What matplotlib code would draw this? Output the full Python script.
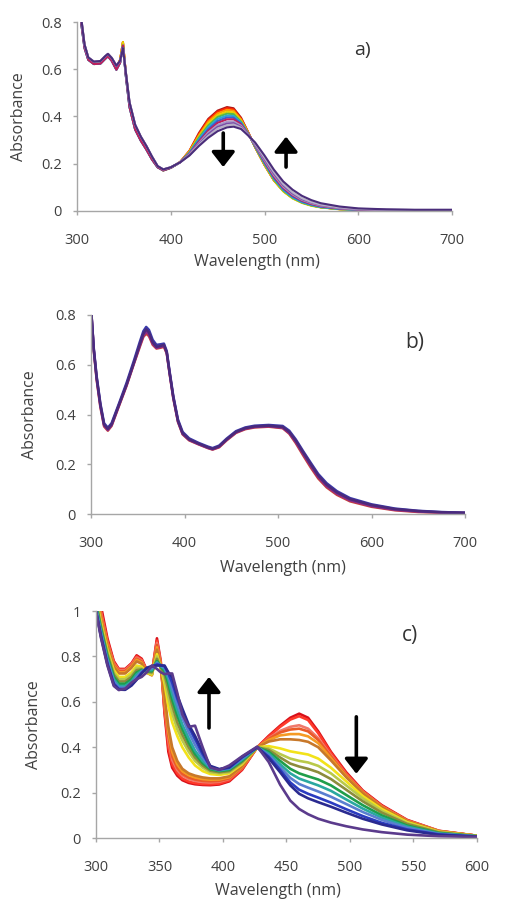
import matplotlib.pyplot as plt

plt.rcParams['font.family'] = ['Open Sans', 'DejaVu Sans']

# ---------------- panel a ----------------
# UV part: the curves nearly overlap, read as three groups
front_wl_a = [302, 305, 308, 312, 318, 325, 330, 333, 337, 342, 346, 349,
              352, 356, 362, 368, 374, 380, 386, 392, 400, 410]
front_warm_a = [0.90, 0.79, 0.70, 0.645, 0.63, 0.632, 0.652, 0.662, 0.643, 0.608, 0.64, 0.715,
                0.585, 0.45, 0.355, 0.305, 0.265, 0.222, 0.187, 0.172, 0.183, 0.207]
front_cool_a = [0.90, 0.78, 0.69, 0.64, 0.622, 0.624, 0.644, 0.655, 0.636, 0.598, 0.628, 0.70,
                0.575, 0.44, 0.345, 0.298, 0.26, 0.218, 0.185, 0.172, 0.183, 0.206]
front_purple_a = [0.90, 0.80, 0.705, 0.65, 0.632, 0.635, 0.655, 0.665, 0.648, 0.615, 0.636, 0.69,
                  0.59, 0.46, 0.365, 0.315, 0.275, 0.23, 0.19, 0.176, 0.185, 0.206]
fronts_a = [front_warm_a, front_cool_a, front_purple_a]
front_pick_a = [0, 0, 0, 0, 1, 1, 1, 1, 2, 2, 2, 2]

vis_wl_a = [420, 430, 440, 450, 460, 467, 475, 483, 490, 500, 510, 520, 530,
            540, 550, 560, 580, 600, 630, 660, 700]
vis_a = [
    [0.255, 0.33, 0.39, 0.425, 0.44, 0.435, 0.395, 0.33, 0.27, 0.195, 0.13, 0.085, 0.055, 0.036, 0.024, 0.016, 0.008, 0.004, 0.002, 0.002, 0.002],
    [0.255, 0.325, 0.385, 0.42, 0.435, 0.43, 0.39, 0.33, 0.27, 0.195, 0.13, 0.085, 0.055, 0.036, 0.024, 0.016, 0.008, 0.004, 0.002, 0.002, 0.002],
    [0.253, 0.32, 0.378, 0.413, 0.428, 0.424, 0.387, 0.328, 0.27, 0.196, 0.131, 0.085, 0.055, 0.036, 0.024, 0.016, 0.008, 0.004, 0.002, 0.002, 0.002],
    [0.25, 0.315, 0.37, 0.405, 0.42, 0.417, 0.383, 0.326, 0.27, 0.196, 0.13, 0.083, 0.053, 0.034, 0.022, 0.015, 0.007, 0.003, 0.002, 0.002, 0.002],
    [0.248, 0.31, 0.362, 0.398, 0.412, 0.41, 0.378, 0.325, 0.272, 0.2, 0.134, 0.087, 0.056, 0.036, 0.024, 0.016, 0.008, 0.004, 0.002, 0.002, 0.002],
    [0.246, 0.303, 0.354, 0.39, 0.404, 0.402, 0.374, 0.324, 0.274, 0.203, 0.138, 0.09, 0.058, 0.038, 0.026, 0.017, 0.009, 0.004, 0.003, 0.002, 0.002],
    [0.244, 0.297, 0.346, 0.381, 0.396, 0.395, 0.37, 0.323, 0.276, 0.207, 0.142, 0.094, 0.062, 0.041, 0.028, 0.019, 0.01, 0.005, 0.003, 0.003, 0.003],
    [0.242, 0.292, 0.339, 0.373, 0.388, 0.388, 0.366, 0.322, 0.278, 0.211, 0.146, 0.098, 0.066, 0.044, 0.03, 0.021, 0.011, 0.006, 0.004, 0.003, 0.003],
    [0.24, 0.287, 0.332, 0.364, 0.378, 0.379, 0.361, 0.321, 0.28, 0.215, 0.152, 0.103, 0.07, 0.047, 0.033, 0.023, 0.012, 0.007, 0.004, 0.004, 0.004],
    [0.238, 0.283, 0.325, 0.356, 0.37, 0.372, 0.356, 0.32, 0.283, 0.22, 0.158, 0.108, 0.074, 0.05, 0.036, 0.025, 0.014, 0.008, 0.005, 0.004, 0.004],
    [0.237, 0.28, 0.318, 0.349, 0.363, 0.366, 0.352, 0.319, 0.286, 0.226, 0.165, 0.114, 0.079, 0.054, 0.038, 0.027, 0.015, 0.009, 0.006, 0.005, 0.005],
    [0.235, 0.275, 0.31, 0.338, 0.354, 0.357, 0.347, 0.318, 0.29, 0.235, 0.175, 0.125, 0.09, 0.064, 0.046, 0.033, 0.019, 0.011, 0.007, 0.005, 0.005],
]
colors_a = ['#b01818', '#ff2a00', '#ff9900', '#e6d200', '#55b84a', '#29a8d8',
            '#3a5fd0', '#c0205a', '#a999c8', '#7b4fa8', '#b8b0c8', '#4a2d7a']

# ---------------- panel b ----------------
wl_b = [300, 303, 306, 310, 314, 318, 322, 330, 338, 346, 352, 356, 359, 362, 366, 370,
        374, 378, 381, 384, 388, 393, 398, 405, 415, 425, 430, 437, 445, 455, 465, 475,
        490, 505, 512, 519, 527, 535, 543, 552, 563, 577, 600, 625, 650, 675, 700]
abs_b = [
    [0.83, 0.655, 0.54, 0.43, 0.352, 0.335, 0.354, 0.435, 0.515, 0.605, 0.67, 0.712, 0.725, 0.715, 0.68, 0.665,
     0.668, 0.672, 0.645, 0.565, 0.465, 0.37, 0.32, 0.296, 0.28, 0.265, 0.259, 0.268, 0.296, 0.326, 0.341, 0.348,
     0.351, 0.345, 0.323, 0.285, 0.235, 0.187, 0.143, 0.107, 0.077, 0.051, 0.029, 0.015, 0.008, 0.005, 0.004],
    [0.83, 0.658, 0.545, 0.435, 0.356, 0.338, 0.357, 0.438, 0.518, 0.608, 0.675, 0.718, 0.733, 0.722, 0.685, 0.668,
     0.671, 0.676, 0.648, 0.568, 0.468, 0.372, 0.322, 0.298, 0.281, 0.266, 0.26, 0.27, 0.298, 0.328, 0.343, 0.35,
     0.353, 0.347, 0.326, 0.29, 0.241, 0.194, 0.149, 0.112, 0.082, 0.055, 0.032, 0.017, 0.01, 0.006, 0.004],
    [0.83, 0.665, 0.555, 0.445, 0.365, 0.347, 0.365, 0.445, 0.527, 0.618, 0.69, 0.735, 0.752, 0.74, 0.7, 0.68,
     0.682, 0.685, 0.655, 0.575, 0.475, 0.38, 0.33, 0.304, 0.286, 0.271, 0.265, 0.275, 0.303, 0.333, 0.348, 0.355,
     0.358, 0.354, 0.335, 0.3, 0.252, 0.206, 0.161, 0.124, 0.092, 0.064, 0.039, 0.022, 0.013, 0.008, 0.005],
    [0.83, 0.66, 0.55, 0.44, 0.36, 0.342, 0.36, 0.44, 0.52, 0.61, 0.68, 0.725, 0.742, 0.73, 0.69, 0.672,
     0.675, 0.68, 0.65, 0.57, 0.47, 0.375, 0.325, 0.3, 0.283, 0.268, 0.262, 0.272, 0.3, 0.33, 0.345, 0.352,
     0.355, 0.35, 0.33, 0.295, 0.247, 0.2, 0.155, 0.118, 0.087, 0.06, 0.036, 0.02, 0.012, 0.007, 0.005],
]
colors_b = ['#c8403a', '#8a2a8a', '#3a3aa8', '#4b2a7b']

# ---------------- panel c ----------------
wl_c = [300, 304, 309, 314, 318, 323, 328, 332, 336, 340, 344, 348, 351, 354, 357, 360,
        364, 368, 373, 378, 384, 390, 397, 405, 415, 427, 436, 445, 453, 460, 467, 475,
        485, 497, 510, 525, 545, 570, 600]
abs_c = [
    [1.15, 1.02, 0.88, 0.78, 0.745, 0.745, 0.77, 0.805, 0.79, 0.74, 0.725, 0.88, 0.78, 0.55, 0.38, 0.31,
     0.275, 0.255, 0.243, 0.237, 0.234, 0.233, 0.236, 0.25, 0.30, 0.40, 0.45, 0.495, 0.53, 0.548, 0.53, 0.47,
     0.38, 0.29, 0.21, 0.145, 0.08, 0.032, 0.01],
    [1.12, 1.0, 0.87, 0.775, 0.742, 0.742, 0.768, 0.8, 0.786, 0.738, 0.724, 0.87, 0.77, 0.56, 0.40, 0.325,
     0.285, 0.262, 0.249, 0.242, 0.238, 0.237, 0.24, 0.254, 0.303, 0.40, 0.447, 0.49, 0.522, 0.537, 0.52, 0.462,
     0.375, 0.285, 0.207, 0.142, 0.078, 0.031, 0.01],
    [1.1, 0.99, 0.86, 0.77, 0.74, 0.74, 0.765, 0.795, 0.782, 0.735, 0.722, 0.86, 0.77, 0.58, 0.43, 0.345,
     0.30, 0.275, 0.26, 0.252, 0.247, 0.245, 0.248, 0.26, 0.308, 0.40, 0.44, 0.472, 0.49, 0.497, 0.482, 0.44,
     0.365, 0.28, 0.205, 0.14, 0.077, 0.031, 0.01],
    [1.09, 0.98, 0.855, 0.765, 0.735, 0.735, 0.76, 0.79, 0.778, 0.733, 0.72, 0.85, 0.765, 0.59, 0.45, 0.36,
     0.31, 0.283, 0.267, 0.258, 0.252, 0.25, 0.252, 0.263, 0.31, 0.40, 0.437, 0.465, 0.478, 0.482, 0.47, 0.432,
     0.36, 0.277, 0.203, 0.139, 0.076, 0.03, 0.01],
    [1.08, 0.97, 0.85, 0.76, 0.73, 0.73, 0.755, 0.785, 0.773, 0.73, 0.718, 0.84, 0.76, 0.61, 0.47, 0.38,
     0.325, 0.295, 0.277, 0.267, 0.26, 0.257, 0.258, 0.268, 0.314, 0.40, 0.432, 0.452, 0.458, 0.458, 0.448, 0.418,
     0.352, 0.273, 0.2, 0.137, 0.075, 0.03, 0.01],
    [1.07, 0.96, 0.845, 0.755, 0.725, 0.725, 0.75, 0.778, 0.768, 0.728, 0.717, 0.83, 0.755, 0.63, 0.49, 0.40,
     0.34, 0.305, 0.285, 0.275, 0.267, 0.263, 0.263, 0.272, 0.317, 0.40, 0.425, 0.435, 0.435, 0.432, 0.424, 0.40,
     0.342, 0.268, 0.197, 0.135, 0.074, 0.03, 0.01],
    [1.06, 0.95, 0.83, 0.74, 0.71, 0.71, 0.73, 0.76, 0.755, 0.728, 0.72, 0.81, 0.75, 0.68, 0.58, 0.51,
     0.45, 0.40, 0.355, 0.32, 0.295, 0.282, 0.278, 0.285, 0.325, 0.40, 0.405, 0.395, 0.382, 0.375, 0.368, 0.35,
     0.31, 0.25, 0.185, 0.128, 0.07, 0.028, 0.009],
    [1.05, 0.94, 0.82, 0.73, 0.70, 0.70, 0.72, 0.75, 0.748, 0.73, 0.725, 0.80, 0.75, 0.70, 0.62, 0.55,
     0.48, 0.43, 0.38, 0.34, 0.31, 0.29, 0.285, 0.29, 0.33, 0.40, 0.395, 0.37, 0.35, 0.34, 0.333, 0.318,
     0.285, 0.232, 0.175, 0.12, 0.066, 0.026, 0.009],
    [1.04, 0.93, 0.81, 0.72, 0.69, 0.69, 0.71, 0.74, 0.743, 0.733, 0.73, 0.79, 0.752, 0.72, 0.655, 0.585,
     0.51, 0.455, 0.40, 0.355, 0.32, 0.297, 0.29, 0.295, 0.335, 0.40, 0.388, 0.355, 0.328, 0.315, 0.305, 0.29,
     0.26, 0.213, 0.162, 0.112, 0.062, 0.025, 0.008],
    [1.03, 0.92, 0.80, 0.71, 0.68, 0.68, 0.70, 0.73, 0.74, 0.735, 0.735, 0.78, 0.755, 0.735, 0.68, 0.61,
     0.54, 0.48, 0.42, 0.37, 0.33, 0.303, 0.295, 0.30, 0.34, 0.40, 0.38, 0.34, 0.305, 0.285, 0.272, 0.258,
     0.232, 0.19, 0.145, 0.10, 0.055, 0.022, 0.008],
    [1.02, 0.91, 0.79, 0.70, 0.67, 0.67, 0.69, 0.72, 0.737, 0.74, 0.74, 0.775, 0.757, 0.745, 0.70, 0.635,
     0.565, 0.50, 0.44, 0.385, 0.34, 0.308, 0.298, 0.305, 0.345, 0.40, 0.372, 0.325, 0.285, 0.262, 0.248, 0.232,
     0.208, 0.17, 0.13, 0.09, 0.05, 0.02, 0.007],
    [1.01, 0.90, 0.78, 0.69, 0.663, 0.662, 0.68, 0.71, 0.733, 0.745, 0.748, 0.77, 0.76, 0.752, 0.715, 0.66,
     0.59, 0.53, 0.465, 0.41, 0.355, 0.312, 0.30, 0.308, 0.35, 0.40, 0.365, 0.312, 0.265, 0.238, 0.222, 0.205,
     0.182, 0.15, 0.115, 0.08, 0.045, 0.018, 0.007],
    [1.0, 0.89, 0.77, 0.68, 0.657, 0.656, 0.675, 0.70, 0.728, 0.748, 0.755, 0.765, 0.762, 0.757, 0.725, 0.685,
     0.615, 0.555, 0.49, 0.435, 0.37, 0.315, 0.302, 0.31, 0.355, 0.40, 0.358, 0.30, 0.245, 0.213, 0.195, 0.178,
     0.156, 0.127, 0.097, 0.067, 0.038, 0.016, 0.006],
    [1.0, 0.885, 0.765, 0.675, 0.654, 0.653, 0.672, 0.697, 0.725, 0.75, 0.758, 0.76, 0.76, 0.76, 0.73, 0.71,
     0.63, 0.57, 0.50, 0.45, 0.38, 0.318, 0.304, 0.312, 0.358, 0.40, 0.352, 0.29, 0.232, 0.195, 0.175, 0.158,
     0.138, 0.112, 0.085, 0.06, 0.034, 0.014, 0.006],
    [1.0, 0.88, 0.76, 0.67, 0.652, 0.658, 0.685, 0.70, 0.71, 0.73, 0.76, 0.745, 0.73, 0.722, 0.725, 0.725,
     0.64, 0.545, 0.49, 0.495, 0.40, 0.31, 0.30, 0.32, 0.36, 0.403, 0.335, 0.235, 0.165, 0.128, 0.105, 0.085,
     0.068, 0.052, 0.038, 0.026, 0.015, 0.008, 0.005],
]
colors_c = ['#d8101a', '#ff3a2a', '#f0786a', '#ea5a28', '#f59a23', '#c8782a', '#f2e21a',
            '#b9c94a', '#8c8c3c', '#1f9e4a', '#2aa8a0', '#5a7fd0', '#2b3cc0', '#2a2a90', '#5b3b8c']

yticks_08 = [0, 0.2, 0.4, 0.6, 0.8]
ylabels_08 = ['0', '0.2', '0.4', '0.6', '0.8']
yticks_1 = [0, 0.2, 0.4, 0.6, 0.8, 1.0]
ylabels_1 = ['0', '0.2', '0.4', '0.6', '0.8', '1']

TXT = '#404040'
AXC = '#a6a6a6'


def style(ax, xlim, xticks, ylim, yticks, ylabels, ylab_x, xlab_pos):
    ax.set_xlim(*xlim)
    ax.set_ylim(*ylim)
    ax.set_xticks(xticks)
    ax.set_yticks(yticks)
    ax.set_yticklabels(ylabels)
    for s in ['top', 'right']:
        ax.spines[s].set_visible(False)
    for s in ['left', 'bottom']:
        ax.spines[s].set_color(AXC)
        ax.spines[s].set_linewidth(1.0)
    ax.tick_params(direction='out', length=3, width=1, color=AXC,
                   labelsize=10.5, labelcolor=TXT)
    ax.tick_params(axis='x', pad=13)
    ax.tick_params(axis='y', pad=8)
    ax.set_ylabel('Absorbance', fontsize=11.5, color=TXT)
    ax.yaxis.set_label_coords(ylab_x, 0.5)
    ax.set_xlabel('Wavelength (nm)', fontsize=11.5, color=TXT)
    ax.xaxis.set_label_coords(*xlab_pos)


def arrow(ax, x, y0, y1):
    ax.annotate('', xy=(x, y1), xytext=(x, y0),
                arrowprops=dict(arrowstyle='-|>,head_length=0.9,head_width=0.7',
                                lw=2.6, color='black', shrinkA=0, shrinkB=0,
                                mutation_scale=10))


fig = plt.figure(figsize=(5.07, 9.13), dpi=100)

ax_a = fig.add_axes([0.1519, 0.7689, 0.7396, 0.207])
for i, vals in enumerate(vis_a):
    front = fronts_a[front_pick_a[i]]
    ax_a.plot(front_wl_a + vis_wl_a, front + vals, color=colors_a[i], lw=1.5)
style(ax_a, (300, 700), [300, 400, 500, 600, 700], (0, 0.8), yticks_08, ylabels_08,
      -0.133, (0.48, -0.225))
arrow(ax_a, 456, 0.33, 0.186)
arrow(ax_a, 523, 0.186, 0.315)
ax_a.text(0.76, 0.85, 'a)', transform=ax_a.transAxes, fontsize=14, color='#333333',
          ha='center', va='center')

ax_b = fig.add_axes([0.1795, 0.437, 0.7377, 0.218])
for vals, col in zip(abs_b, colors_b):
    ax_b.plot(wl_b, vals, color=col, lw=1.8)
style(ax_b, (300, 700), [300, 400, 500, 600, 700], (0, 0.8), yticks_08, ylabels_08,
      -0.142, (0.513, -0.232))
ax_b.text(0.866, 0.86, 'b)', transform=ax_b.transAxes, fontsize=15, color='#333333',
          ha='center', va='center')

ax_c = fig.add_axes([0.1893, 0.0821, 0.7515, 0.2486])
for vals, col in zip(abs_c, colors_c):
    ax_c.plot(wl_c, vals, color=col, lw=1.9)
style(ax_c, (300, 600), [300, 350, 400, 450, 500, 550, 600], (0, 1.0), yticks_1, ylabels_1,
      -0.142, (0.478, -0.2))
arrow(ax_c, 389, 0.485, 0.71)
arrow(ax_c, 505, 0.534, 0.283)
ax_c.text(0.824, 0.894, 'c)', transform=ax_c.transAxes, fontsize=15, color='#333333',
          ha='center', va='center')

fig.savefig('out.png', dpi=100)
